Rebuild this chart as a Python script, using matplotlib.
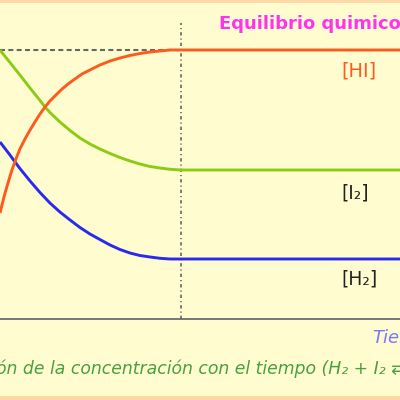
import matplotlib
matplotlib.use("Agg")
import matplotlib.pyplot as plt
from matplotlib.patches import Rectangle

# Concentration vs. time for H2 + I2 <=> 2HI (arbitrary units)
t_eq = 10.0          # time at which equilibrium is reached
t_end = 22.1

time_hi = [0, 0.22, 0.44, 0.66, 0.88, 1.10, 1.38, 1.66, 1.93, 2.21, 2.49,
           2.76, 3.09, 3.43, 3.76, 4.14, 4.53, 4.97, 5.52, 6.08, 6.63, 7.18,
           7.73, 8.29, 8.84, 9.39, 10.0, 22.1]
conc_hi = [1.06, 1.22, 1.36, 1.49, 1.60, 1.70, 1.80, 1.89, 1.97, 2.05, 2.12,
           2.18, 2.24, 2.30, 2.35, 2.40, 2.45, 2.49, 2.54, 2.58, 2.61, 2.635,
           2.655, 2.67, 2.68, 2.69, 2.69, 2.69]

time_i2 = [0, 0.55, 1.10, 1.66, 2.21, 2.49, 2.76, 3.31, 3.87, 4.42, 4.97,
           5.52, 6.08, 6.63, 7.18, 7.73, 8.29, 8.84, 9.39, 10.0, 22.1]
conc_i2 = [2.69, 2.565, 2.44, 2.31, 2.185, 2.12, 2.065, 1.97, 1.885, 1.81,
           1.75, 1.70, 1.655, 1.615, 1.58, 1.55, 1.525, 1.51, 1.497, 1.49,
           1.49]

time_h2 = [0, 0.55, 0.83, 1.10, 1.66, 2.21, 2.76, 3.31, 3.87, 4.42, 4.97,
           5.52, 6.08, 6.63, 7.18, 7.73, 8.29, 8.84, 9.39, 10.0, 22.1]
conc_h2 = [1.77, 1.64, 1.57, 1.505, 1.38, 1.265, 1.16, 1.07, 0.99, 0.915,
           0.85, 0.795, 0.74, 0.695, 0.66, 0.635, 0.62, 0.607, 0.60, 0.60,
           0.60]

hi_eq = 2.69
guide_top = 2.96

labels = ["[HI]", "[I₂]", "[H₂]"]
title = "Equilibrio quimico"
xlabel = "Tiempo"
caption = "Variación de la concentración con el tiempo (H₂ + I₂ ⇄ 2HI)"

BG = "#FFFDD0"
fig = plt.figure(figsize=(4, 4), dpi=100, facecolor=BG)
ax = fig.add_axes([0, 0, 1, 1])
ax.set_facecolor(BG)
ax.set_xlim(0, t_end)
ax.set_ylim(-0.81, 3.19)
ax.axis("off")

# frame strips
fig.patches.append(Rectangle((0, 1 - 3 / 400), 1, 3 / 400, transform=fig.transFigure,
                             facecolor="#FFD8A8", edgecolor="none", zorder=0))
fig.patches.append(Rectangle((0, 0), 1, 4 / 400, transform=fig.transFigure,
                             facecolor="#FFD8A8", edgecolor="none", zorder=0))

# time axis
ax.axhline(0, color="#777777", lw=1.4, zorder=1)

# guides
ax.plot([0, t_eq], [hi_eq, hi_eq], color="#666666", lw=1.5,
        dashes=(2.4, 1.6), zorder=2)
ax.plot([t_eq, t_eq], [0, guide_top], color="#666666", lw=1.2,
        dashes=(2.0, 1.8, 0.7, 1.8), zorder=2)

style = dict(lw=2.1, solid_capstyle="butt", solid_joinstyle="round")
ax.plot(time_i2, conc_i2, color="#8CCB14", zorder=3, **style)
ax.plot(time_h2, conc_h2, color="#2A2AEE", zorder=3, **style)
ax.plot(time_hi, conc_hi, color="#FF5A1E", zorder=4, **style)


def px(x, y):
    return x / 400, 1 - y / 400


fig.text(*px(219, 24), title, color="#FF33EE", fontsize=13, fontweight="bold",
         ha="left", va="center")
fig.text(*px(341, 71), labels[0], color="#FF5A1E", fontsize=14,
         ha="left", va="center")
fig.text(*px(341, 193), labels[1], color="#222222", fontsize=13.5,
         ha="left", va="center")
fig.text(*px(341, 279), labels[2], color="#222222", fontsize=13.5,
         ha="left", va="center")
fig.text(*px(372, 338), xlabel, color="#7777FF", fontsize=13, style="italic",
         ha="left", va="center")

# caption, shifted left so that it runs off both edges
cap_size = 12.4
renderer = fig.canvas.get_renderer()
probe = fig.text(0, 0, "Variaci", fontsize=cap_size, style="italic")
shift = probe.get_window_extent(renderer).width
probe.remove()
fig.text((-shift - 4) / 400, 1 - 369 / 400, caption, color="#48A040",
         fontsize=cap_size, style="italic", ha="left", va="center")

fig.savefig("out.png", dpi=100, facecolor=BG)
